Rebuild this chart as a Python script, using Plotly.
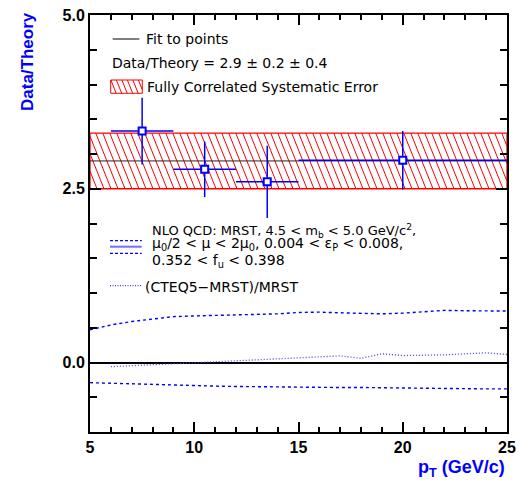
import plotly.graph_objects as go

# ---------------- data ----------------
pt_points = [7.5, 10.5, 13.5, 20.0]
pt_halfwidth = [1.5, 1.5, 1.5, 5.0]
ratio = [3.33, 2.78, 2.60, 2.91]
ratio_err = [0.48, 0.40, 0.52, 0.42]

fit_value = 2.9
fit_stat = 0.2
fit_sys = 0.4

pt_grid = [5, 6, 7, 8, 9, 10, 11, 12, 13, 14, 15, 16, 17, 18, 19, 20, 21, 22, 23, 24, 25]
nlo_upper = [0.47, 0.54, 0.59, 0.63, 0.66, 0.67, 0.675, 0.68, 0.685, 0.70, 0.72,
             0.725, 0.715, 0.71, 0.70, 0.71, 0.73, 0.75, 0.745, 0.74, 0.74]
nlo_lower = [-0.29, -0.30, -0.31, -0.32, -0.33, -0.335, -0.34, -0.345, -0.35, -0.35,
             -0.355, -0.355, -0.36, -0.36, -0.365, -0.37, -0.375, -0.375, -0.38, -0.38, -0.38]

pt_pdf = [6, 7, 8, 9, 10, 11, 12, 13, 14, 15, 16, 17, 18, 19, 20, 21, 22, 23, 24, 25]
pdf_ratio = [-0.06, -0.045, -0.03, -0.015, 0.0, 0.01, 0.02, 0.035, 0.06, 0.075,
             0.09, 0.095, 0.06, 0.125, 0.10, 0.10, 0.11, 0.125, 0.14, 0.115]

x_range = [5, 25]
y_range = [-1, 5]

# ---------------- page geometry ----------------
W, H = 518, 485
L, R, T, B = 90, 507, 15, 432
PW, PH = R - L, B - T

BLUE = "#0000ff"
FONT = "Liberation Sans"
KEY_FONT = "DejaVu Sans"


def px(xp):
    return (xp - L) / PW


def py(yp):
    return (B - yp) / PH


def hatch(x0, x1, y0, y1, sx, sy, step=7.0, slope=2.5):
    """Backslash hatch lines inside a rectangle; sx, sy are pixels per unit."""
    w = (x1 - x0) * sx
    h = (y1 - y0) * sy
    run = h / slope
    xs, ys = [], []
    t = -run
    while t < w:
        a, b = t, t + run
        ta, tb = max(0.0, a), min(w, b)
        if ta < tb:
            ya, yb = (ta - a) * slope, (tb - a) * slope
            xs += [x0 + ta / sx, x0 + tb / sx, None]
            ys += [y1 - ya / sy, y1 - yb / sy, None]
        t += step
    return xs, ys


fig = go.Figure()

# systematic band around the fit
band_lo, band_hi = fit_value - fit_sys, fit_value + fit_sys
sx_data = PW / (x_range[1] - x_range[0])
sy_data = PH / (y_range[1] - y_range[0])
hx, hy = hatch(x_range[0], x_range[1], band_lo, band_hi, sx_data, sy_data)
fig.add_trace(go.Scatter(x=hx, y=hy, mode="lines", line=dict(color="red", width=1),
                         hoverinfo="skip", showlegend=False))
fig.add_trace(go.Scatter(
    x=[x_range[0], x_range[1], x_range[1], x_range[0], x_range[0]],
    y=[band_lo, band_lo, band_hi, band_hi, band_lo],
    mode="lines", line=dict(color="red", width=1.3), showlegend=False))

# fit line
fig.add_trace(go.Scatter(x=x_range, y=[fit_value, fit_value], mode="lines",
                         line=dict(color="#222222", width=1), showlegend=False))

# NLO uncertainty curves and PDF comparison
fig.add_trace(go.Scatter(x=pt_grid, y=nlo_upper, mode="lines",
                         line=dict(color=BLUE, width=1.4, dash="3px,3px"), showlegend=False))
fig.add_trace(go.Scatter(x=pt_grid, y=nlo_lower, mode="lines",
                         line=dict(color=BLUE, width=1.4, dash="3px,3px"), showlegend=False))
fig.add_trace(go.Scatter(x=pt_pdf, y=pdf_ratio, mode="lines",
                         line=dict(color="#4040ff", width=1.3, dash="1px,2px"), showlegend=False))

# measured points
fig.add_trace(go.Scatter(
    x=pt_points, y=ratio, mode="markers",
    marker=dict(symbol="square", size=7, color="white", line=dict(color=BLUE, width=2)),
    error_x=dict(type="data", array=pt_halfwidth, color=BLUE, thickness=1.5, width=0),
    error_y=dict(type="data", array=ratio_err, color=BLUE, thickness=1.5, width=0),
    showlegend=False))

# ---------------- key (drawn on an overlay in page fractions) ----------------
def key_line(x0p, x1p, yp, **line):
    fig.add_trace(go.Scatter(x=[px(x0p), px(x1p)], y=[py(yp), py(yp)], mode="lines",
                             line=line, xaxis="x2", yaxis="y2", showlegend=False,
                             hoverinfo="skip"))

key_line(112.7, 139.3, 39, color="black", width=1)

kx, ky = hatch(px(110.7), px(142.3), py(93.3), py(80), PW, PH, step=5.5)
fig.add_trace(go.Scatter(x=kx, y=ky, mode="lines", line=dict(color="red", width=1),
                         xaxis="x2", yaxis="y2", showlegend=False, hoverinfo="skip"))
fig.add_trace(go.Scatter(
    x=[px(110.7), px(142.3), px(142.3), px(110.7), px(110.7)],
    y=[py(93.3), py(93.3), py(80), py(80), py(93.3)],
    mode="lines", line=dict(color="red", width=1), xaxis="x2", yaxis="y2",
    showlegend=False, hoverinfo="skip"))

key_line(110, 141.7, 240.7, color=BLUE, width=1.2, dash="3px,2px")
key_line(110, 141.7, 246.7, color="#7070ff", width=2)
key_line(110, 141.7, 253.3, color=BLUE, width=1.2, dash="3px,2px")
key_line(110, 141.7, 285.7, color="#4040ff", width=1.2, dash="1px,1.5px")

texts = [
    (145, 39, "Fit to points", 14),
    (110.7, 63.3, f"Data/Theory = {fit_value:.1f} \u00b1 {fit_stat:.1f} \u00b1 {fit_sys:.1f}", 14),
    (145.7, 86.7, "Fully Correlated Systematic Error", 14),
    (151, 230.7, "NLO QCD: MRST, 4.5 &lt; m<sub>b</sub> &lt; 5.0 GeV/c<sup>2</sup>,", 13),
    (151, 243.8, "\u03bc<sub>0</sub>/2 &lt; \u03bc &lt; 2\u03bc<sub>0</sub>, 0.004 &lt; \u03b5<sub>P</sub> &lt; 0.008,", 14),
    (151, 260.7, "0.352 &lt; f<sub>u</sub> &lt; 0.398", 14),
    (144.3, 286.7, "(CTEQ5\u2212MRST)/MRST", 14),
]
annotations = []
for xp, yp, txt, size in texts:
    annotations.append(dict(x=px(xp), y=py(yp), xref="paper", yref="paper", text=txt,
                            showarrow=False, xanchor="left", yanchor="middle", borderpad=0,
                            font=dict(family=KEY_FONT, size=size, color="black")))

# axis titles
annotations.append(dict(x=px(28), y=py(62), xref="paper", yref="paper", text="<b>Data/Theory</b>",
                        textangle=-90, showarrow=False, xanchor="center", yanchor="middle",
                        font=dict(family=FONT, size=17, color=BLUE)))
annotations.append(dict(x=1.0, y=py(469), xref="paper", yref="paper",
                        text="<b>p<sub>T</sub> (GeV/c)</b>", showarrow=False,
                        xanchor="right", yanchor="middle",
                        font=dict(family=FONT, size=18, color=BLUE)))

axis_common = dict(showline=True, linecolor="black", linewidth=2, mirror="allticks",
                   ticks="inside", tickcolor="black", tickwidth=1.5, showgrid=False,
                   automargin=False,
                   tickfont=dict(family=FONT, size=16, color="black", weight="bold"))

fig.update_layout(
    width=W, height=H,
    margin=dict(l=L, r=W - R, t=T, b=H - B, autoexpand=False),
    paper_bgcolor="white", plot_bgcolor="white",
    xaxis=dict(range=x_range, dtick=5, tick0=0, ticklen=10,
               minor=dict(dtick=1, ticklen=5, ticks="inside", tickcolor="black", tickwidth=1.5),
               zeroline=False, **axis_common),
    yaxis=dict(range=y_range, dtick=2.5, tick0=0, ticklen=11, tickformat=".1f",
               minor=dict(dtick=0.5, ticklen=7, ticks="inside", tickcolor="black", tickwidth=1.5),
               zeroline=True, zerolinecolor="black", zerolinewidth=2, **axis_common),
    xaxis2=dict(overlaying="x", range=[0, 1], visible=False, fixedrange=True),
    yaxis2=dict(overlaying="y", range=[0, 1], visible=False, fixedrange=True),
    annotations=annotations,
    showlegend=False,
)

fig.write_html("out.html")
